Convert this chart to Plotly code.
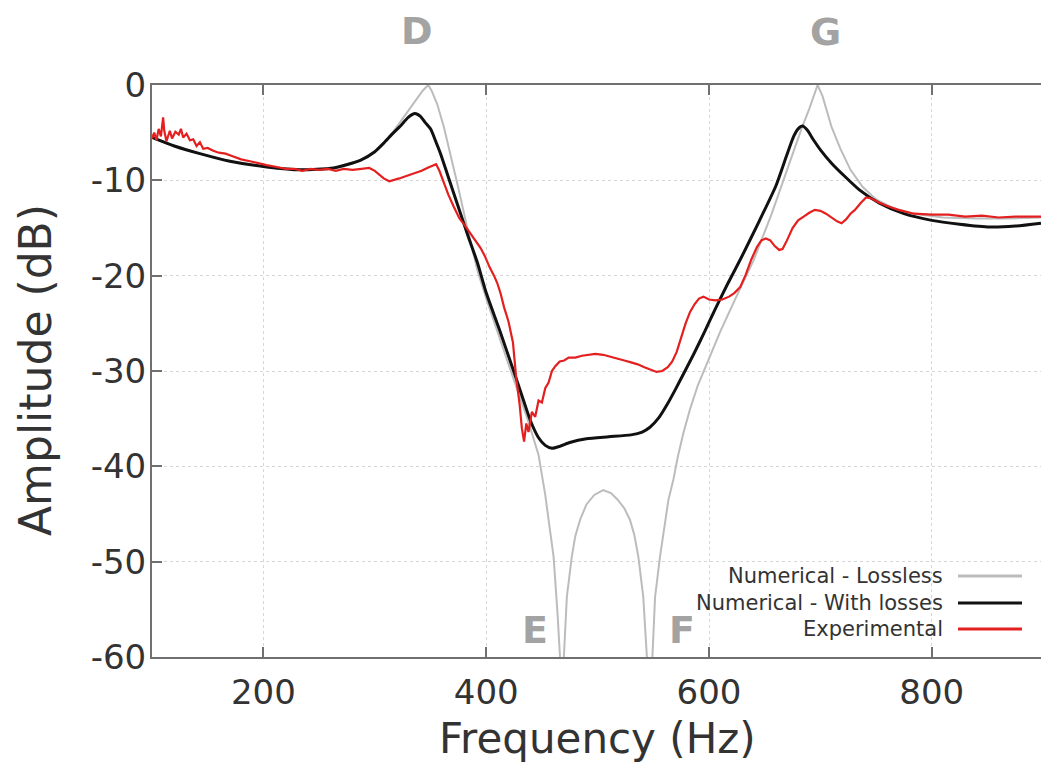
import plotly.graph_objects as go

# ---------------- data ----------------
freq_lossless = [100, 120, 143, 170, 203, 233, 263, 287, 300, 308, 316, 322, 327, 333, 338, 343, 348,
                 351, 356, 362, 368, 375, 383, 392, 400, 412, 425, 437, 447, 453, 457,
                 460.5, 464, 466.5, 468, 469.5, 472.4, 476.8, 480, 484.3, 490, 497, 505, 512, 518, 524, 529,
                 533, 536.6, 541, 544.5, 547, 549, 551.6, 556, 563.6, 568, 572, 577, 583, 590, 598, 610, 623,
                 640, 656, 673, 683, 690, 694, 697.5, 702, 706, 710, 718, 727, 738, 750,
                 765, 784, 810, 840, 870, 898]
db_lossless = [-5.5, -6.4, -7.2, -8.0, -8.6, -8.9, -8.7, -7.9, -7.0, -6.1, -5.0, -4.0, -3.1, -2.2, -1.4, -0.6, 0.0,
               -0.6, -2.0, -4.4, -7.3, -10.8, -15.0, -19.4, -22.4, -26.6, -31.0, -35.0, -38.8, -43.0, -46.2,
               -49.5, -55.4, -60.5, -75.0, -60.5, -53.7, -49.5, -47.3, -45.6, -44.0, -43.0, -42.5, -42.8, -43.5, -44.4, -45.6,
               -47.2, -49.5, -53.7, -60.5, -75.0, -60.5, -53.7, -49.5, -43.5, -41.4, -39.0, -36.5, -34.0, -31.5, -29.2, -25.9, -22.6,
               -18.4, -13.6, -7.9, -4.6, -2.5, -1.2, 0.0, -1.2, -2.8, -4.4, -6.7, -8.9, -10.7, -12.0,
               -12.9, -13.5, -13.9, -14.0, -14.0, -13.9]

freq_losses = [100, 120, 143, 170, 203, 233, 263, 287, 300, 308, 316, 323, 330, 336, 341,
               345, 350, 355, 359, 365, 371, 377, 383, 392, 400, 412, 424, 433, 440, 447,
               453, 459, 466, 475, 490, 510, 530, 540, 547, 555, 562, 570, 578, 586, 596, 606, 617, 629,
               645, 660, 670, 676, 680, 684, 688, 694, 700, 710, 722, 735, 753, 775, 800,
               825, 852, 875, 898]
db_losses = [-5.5, -6.4, -7.2, -8.0, -8.6, -8.9, -8.7, -7.9, -7.0, -6.1, -5.1, -4.3, -3.4, -3.0, -3.3,
             -3.9, -4.6, -6.0, -7.2, -9.3, -11.4, -13.5, -15.6, -18.6, -21.8, -25.7, -29.8, -32.9, -35.3, -37.0,
             -37.8, -38.1, -37.9, -37.5, -37.1, -36.9, -36.7, -36.4, -35.9, -34.9, -33.6, -31.9, -30.1, -28.3, -25.9, -23.4, -20.8, -18.1,
             -14.3, -10.6, -7.3, -5.4, -4.6, -4.3, -4.7, -5.8, -6.8, -8.2, -9.6, -11.0, -12.4, -13.5, -14.2,
             -14.6, -14.9, -14.8, -14.5]

freq_exp = [100, 102, 104, 106, 108, 110, 111, 113, 116, 118, 121, 124, 126, 128, 131, 134, 137,
            140, 143, 146, 150, 155, 160, 166, 173, 180, 188, 195, 203, 212, 220, 228, 235, 242,
            250, 258, 265, 272, 280, 288, 295, 300, 304, 308, 313, 317, 322, 327, 332, 337, 342,
            347, 352, 355, 358, 361, 366, 371, 376, 380, 384, 388, 391, 395, 399, 403, 407, 410,
            413, 416, 420, 424, 427, 430, 432, 434, 436, 438, 441, 444, 447, 450, 453, 456, 459,
            462, 466, 470, 474, 480, 486, 492, 498, 505, 512, 518, 524, 530, 536, 542, 548, 553,
            558, 563, 567, 571, 575, 579, 583, 587, 591, 595, 600, 606, 612, 618, 623, 628, 633,
            638, 643, 647, 651, 655, 659, 663, 666, 670, 675, 680, 685, 690, 695, 700, 705, 710,
            715, 719, 723, 727, 731, 736, 741, 746, 752, 760, 770, 784, 800, 815, 830, 845, 860,
            875, 898]
db_exp = [-5.6, -5.0, -5.8, -4.6, -5.4, -3.4, -4.8, -5.9, -4.8, -5.6, -4.9, -5.2, -4.6, -5.5, -5.1, -5.8, -5.7,
          -6.4, -6.0, -6.7, -6.6, -6.9, -7.1, -7.2, -7.5, -7.8, -8.0, -8.2, -8.4, -8.6, -8.8, -8.8, -9.0, -8.8,
          -8.9, -8.8, -9.0, -8.8, -8.9, -8.8, -8.7, -9.0, -9.4, -9.8, -10.1, -10.0, -9.8, -9.6, -9.4, -9.2, -9.0,
          -8.7, -8.5, -8.3, -9.0, -10.0, -11.5, -12.8, -14.0, -14.6, -15.3, -15.9, -16.5, -17.1, -18.0, -19.1, -20.0, -20.8,
          -21.9, -23.3, -24.8, -27.0, -30.8, -33.5, -36.0, -37.4, -35.5, -36.4, -34.3, -34.8, -33.1, -33.3, -31.8, -31.2, -30.0,
          -29.5, -29.0, -28.9, -28.6, -28.6, -28.4, -28.3, -28.2, -28.3, -28.5, -28.7, -28.9, -29.1, -29.3, -29.6, -29.9, -30.1,
          -30.0, -29.6, -29.0, -28.0, -26.5, -25.0, -23.8, -23.0, -22.4, -22.2, -22.5, -22.6, -22.5, -22.2, -21.8, -21.2, -19.9,
          -18.3, -17.0, -16.3, -16.1, -16.3, -16.9, -17.3, -17.2, -16.3, -15.0, -14.2, -13.8, -13.4, -13.1, -13.2, -13.5, -13.9,
          -14.3, -14.5, -14.1, -13.5, -13.1, -12.4, -11.8, -11.9, -12.3, -12.7, -13.1, -13.5, -13.6, -13.6, -13.8, -13.7, -13.9,
          -13.8, -13.8]

x_ticks = [200, 400, 600, 800]
y_ticks = [0, -10, -20, -30, -40, -50, -60]
y_tick_labels = ["0", "-10", "-20", "-30", "-40", "-50", "-60"]
series_names = ["Numerical - Lossless", "Numerical - With losses", "Experimental"]
series_colors = ["#bcbcbc", "#111111", "#e3201f"]

# ---------------- layout geometry ----------------
W, H = 1041, 764
ML, MR, MT, MB = 152, 0, 85, 107
PW, PH = W - ML - MR, H - MT - MB
FONT = "DejaVu Sans"


def px(xpix):
    return (xpix - ML) / PW


def py(ypix):
    return (H - MB - ypix) / PH


fig = go.Figure()
fig.add_trace(go.Scatter(x=freq_lossless, y=db_lossless, mode="lines", name=series_names[0],
                         line=dict(color=series_colors[0], width=2)))
fig.add_trace(go.Scatter(x=freq_losses, y=db_losses, mode="lines", name=series_names[1],
                         line=dict(color=series_colors[1], width=3, shape="spline", smoothing=0.6)))
fig.add_trace(go.Scatter(x=freq_exp, y=db_exp, mode="lines", name=series_names[2],
                         line=dict(color=series_colors[2], width=2.2)))

axis_common = dict(showline=True, linecolor="#707070", linewidth=2, ticks="inside", ticklen=10,
                   tickwidth=1.5, tickcolor="#707070", showgrid=True, gridcolor="#d6d6d6",
                   griddash="dot", gridwidth=1, zeroline=False,
                   tickfont=dict(family=FONT, size=34, color="#333333"))

fig.update_layout(
    width=W, height=H, margin=dict(l=ML, r=MR, t=MT, b=MB, pad=0),
    paper_bgcolor="white", plot_bgcolor="white", showlegend=False,
    xaxis=dict(range=[100, 100 + PW / 1.114], tickvals=x_ticks, mirror="allticks",
               ticklabelstandoff=4, **axis_common),
    yaxis=dict(range=[-60, 0], tickvals=y_ticks, ticktext=y_tick_labels, mirror=False,
               ticklabelstandoff=-3, **axis_common),
)

annotations = []
# axis titles
annotations.append(dict(text="Frequency (Hz)", x=px(597), y=py(738), xref="paper", yref="paper",
                        showarrow=False, xanchor="center", yanchor="middle",
                        font=dict(family=FONT, size=42, color="#333333")))
annotations.append(dict(text="Amplitude (dB)", x=px(35), y=py(370), xref="paper", yref="paper",
                        showarrow=False, xanchor="center", yanchor="middle", textangle=-90,
                        font=dict(family=FONT, size=44, color="#333333")))
# peak / notch letters
for lab, xx, yy in [("D", 417, 31), ("G", 825, 32), ("E", 535, 630), ("F", 682, 630)]:
    annotations.append(dict(text="<b>%s</b>" % lab, x=px(xx), y=py(yy), xref="paper", yref="paper",
                            showarrow=False, xanchor="center", yanchor="middle",
                            font=dict(family=FONT, size=38, color="#a3a3a3")))
# custom legend (text right-aligned, line sample on the right)
shapes = []
for name, col, yy in zip(series_names, series_colors, [576, 603, 629]):
    annotations.append(dict(text=name, x=px(945), y=py(yy), xref="paper", yref="paper",
                            showarrow=False, xanchor="right", yanchor="middle",
                            font=dict(family=FONT, size=21, color="#333333")))
    shapes.append(dict(type="line", xref="paper", yref="paper", x0=px(958), x1=px(1022),
                       y0=py(yy), y1=py(yy), line=dict(color=col, width=3)))

fig.update_layout(annotations=annotations, shapes=shapes)
fig.write_html("out.html")
